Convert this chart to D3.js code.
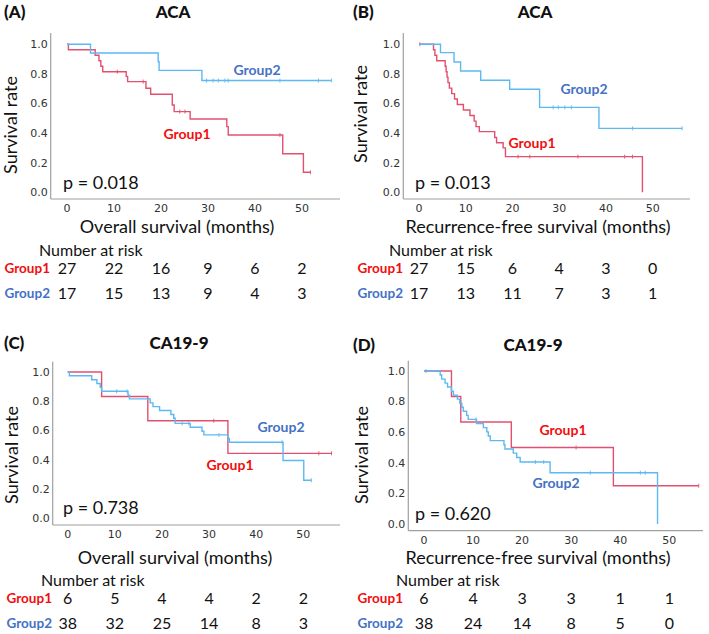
<!DOCTYPE html>
<html><head><meta charset="utf-8">
<script src="https://cdn.jsdelivr.net/npm/d3@7"></script>
<style>body{margin:0;background:#fff}svg{display:block}</style>
</head><body>
<svg id="chart" width="709" height="634"></svg>
<script>
// ---------------- DATA ----------------
const xTicks = [0, 10, 20, 30, 40, 50];
const yTicks = [0, 0.2, 0.4, 0.6, 0.8, 1.0];
const groupNames = ["Group1", "Group2"];
const panelLetters = ["(A)", "(B)", "(C)", "(D)"];
const panelTitles = ["ACA", "ACA", "CA19-9", "CA19-9"];
const xLabels = ["Overall survival (months)", "Recurrence-free survival (months)", "Overall survival (months)", "Recurrence-free survival (months)"];
const pValues = ["p = 0.018", "p = 0.013", "p = 0.738", "p = 0.620"];

// Panel A (ACA, OS)
const aG1Times = [0.3, 6.0, 6.8, 7.2, 7.6, 12.6, 12.9, 16.8, 17.8, 22.4, 22.8, 26.2, 34.0, 34.3, 45.9, 50.3];
const aG1Surv  = [0.963, 0.926, 0.889, 0.852, 0.815, 0.783, 0.748, 0.703, 0.662, 0.59, 0.545, 0.495, 0.444, 0.387, 0.26, 0.135];
const aG1Cens  = [10.7, 16.2, 24.0, 25.1, 45.3, 51.8];
const aG2Times = [5.0, 19.4, 19.6, 28.7];
const aG2Surv  = [0.941, 0.882, 0.824, 0.755];
const aG2Cens  = [29.7, 31.1, 32.2, 33.6, 34.3, 45.3, 53.5, 56.3];
const aRisk1 = [27, 22, 16, 9, 6, 2];
const aRisk2 = [17, 15, 13, 9, 4, 3];

// Panel B (ACA, RFS)
const bG1Times = [3.1, 3.4, 3.8, 5.6, 5.8, 6.0, 6.2, 6.5, 7.0, 7.6, 8.2, 9.5, 10.9, 11.8, 12.2, 12.9, 16.2, 16.6, 18.0, 18.5, 47.8];
const bG1Surv  = [0.963, 0.926, 0.889, 0.852, 0.815, 0.778, 0.741, 0.704, 0.667, 0.630, 0.593, 0.556, 0.519, 0.481, 0.444, 0.41, 0.37, 0.335, 0.30, 0.241, 0];
const bG1Cens  = [0.2, 21.2, 23.7, 34.0, 44.0, 45.7];
const bG2Times = [4.6, 7.5, 8.9, 13.2, 19.4, 25.8, 38.5];
const bG2Surv  = [0.944, 0.88, 0.82, 0.757, 0.696, 0.574, 0.432];
const bG2Cens  = [28.7, 29.8, 31.2, 32.6, 45.7, 56.3];
const bRisk1 = [27, 15, 6, 4, 3, 0];
const bRisk2 = [17, 13, 11, 7, 3, 1];

// Panel C (CA19-9, OS)
const cG1Times = [7.2, 17.0, 34.0];
const cG1Surv  = [0.833, 0.667, 0.444];
const cG1Cens  = [31.0, 53.3, 56.0];
const cG2Times = [0.35, 5.1, 6.2, 6.9, 7.2, 12.8, 13.1, 17.5, 18.1, 19.5, 21.9, 22.5, 22.8, 26.0, 28.5, 28.9, 34.0, 34.3, 45.7, 50.1];
const cG2Surv  = [0.974, 0.947, 0.921, 0.895, 0.868, 0.842, 0.816, 0.789, 0.763, 0.737, 0.71, 0.684, 0.649, 0.622, 0.595, 0.57, 0.545, 0.52, 0.395, 0.26];
const cG2Cens  = [10.4, 12.6, 24.3, 25.7, 32.1, 45.5, 51.7];
const cRisk1 = [6, 5, 4, 4, 2, 2];
const cRisk2 = [38, 32, 25, 14, 8, 3];

// Panel D (CA19-9, RFS)
const dG1Times = [5.6, 7.5, 17.8, 38.6];
const dG1Surv  = [0.833, 0.667, 0.5, 0.25];
const dG1Cens  = [31.0, 56.0];
const dG2Times = [3.3, 3.6, 4.3, 4.8, 5.6, 6.0, 6.8, 7.3, 7.7, 8.0, 8.7, 9.0, 10.7, 12.1, 12.8, 13.1, 13.5, 16.3, 16.5, 18.2, 18.9, 19.6, 25.7, 47.6];
const dG2Surv  = [0.974, 0.947, 0.921, 0.895, 0.868, 0.842, 0.816, 0.789, 0.763, 0.737, 0.71, 0.684, 0.657, 0.63, 0.602, 0.575, 0.545, 0.518, 0.49, 0.463, 0.435, 0.405, 0.335, 0];
const dG2Cens  = [0.4, 10.6, 22.7, 24.4, 33.9, 44.1, 45.1];
const dRisk1 = [6, 4, 3, 3, 1, 1];
const dRisk2 = [38, 24, 14, 8, 5, 0];

// ---------------- LAYOUT / STYLE ----------------
const curveColors = ["#e2506f", "#5cb9f3"];
const labelColors = ["#f20d0d", "#4472c4"];
const FONT = "Lato, 'Open Sans', sans-serif";
const TICKFONT = "'DejaVu Sans', sans-serif";

const panels = [
  {d:[[aG1Times,aG1Surv,aG1Cens],[aG2Times,aG2Surv,aG2Cens]], risk:[aRisk1,aRisk2], end:[51.8,56.3],
   x0:67, x50:302, y1:44.3, y0:192.3, axX:50.7, axTop:33, axY:199, axRight:340,
   title:[173,12], letter:[4,12], ylab:[11,125], xlab:[177,227], nar:[39,250], rows:[268,293], rowLabelRight:50,
   p:[63,189], g1:[187,134], g2:[257,70]},
  {d:[[bG1Times,bG1Surv,bG1Cens],[bG2Times,bG2Surv,bG2Cens]], risk:[bRisk1,bRisk2], end:[47.8,56.3],
   x0:419, x50:652.7, y1:44.3, y0:192.3, axX:403.3, axTop:33, axY:199, axRight:690,
   title:[535,12], letter:[353,12], ylab:[361,114], xlab:[538,227], nar:[389,250], rows:[268,293], rowLabelRight:403,
   p:[415,189], g1:[532,143], g2:[584,89]},
  {d:[[cG1Times,cG1Surv,cG1Cens],[cG2Times,cG2Surv,cG2Cens]], risk:[cRisk1,cRisk2], end:[56.0,51.7],
   x0:67.7, x50:303.3, y1:372, y0:518.3, axX:52.7, axTop:361.7, axY:525, axRight:340,
   title:[179,343], letter:[4,343], ylab:[12,455], xlab:[175,558], nar:[41,580], rows:[598,623], rowLabelRight:52,
   p:[63,514], g1:[230,465], g2:[281,427]},
  {d:[[dG1Times,dG1Surv,dG1Cens],[dG2Times,dG2Surv,dG2Cens]], risk:[dRisk1,dRisk2], end:[56.0,47.6],
   x0:424, x50:669.3, y1:371, y0:524, axX:408.3, axTop:360.7, axY:530.7, axRight:703,
   title:[533,345], letter:[353,345], ylab:[362,455], xlab:[538,558], nar:[396,580], rows:[598,623], rowLabelRight:403,
   p:[415,520], g1:[563,430], g2:[556,483]}
];

const svg = d3.select("#chart");

function survAt(times, surv, t) {
  let s = 1;
  for (let i = 0; i < times.length; i++) if (times[i] <= t) s = surv[i];
  return s;
}

panels.forEach((P, pi) => {
  const g = svg.append("g");
  const x = d3.scaleLinear().domain([0, 50]).range([P.x0, P.x50]);
  const y = d3.scaleLinear().domain([0, 1]).range([P.y0, P.y1]);

  // axes lines
  g.append("line").attr("x1", P.axX).attr("x2", P.axX).attr("y1", P.axTop).attr("y2", P.axY)
    .attr("stroke", "#a0a0a0").attr("stroke-width", 1.2);
  g.append("line").attr("x1", P.axX).attr("x2", P.axRight).attr("y1", P.axY).attr("y2", P.axY)
    .attr("stroke", "#a0a0a0").attr("stroke-width", 1.2);

  // y tick labels
  g.selectAll(".yt").data(yTicks).enter().append("text")
    .attr("x", P.axX - 3).attr("y", d => y(d)).attr("dy", "0.35em")
    .attr("text-anchor", "end").attr("font-family", TICKFONT).attr("font-size", 11).attr("fill", "#333")
    .text(d => d3.format(".1f")(d));
  // x tick labels
  g.selectAll(".xt").data(xTicks).enter().append("text")
    .attr("x", d => x(d)).attr("y", P.axY + 9).attr("dy", "0.35em")
    .attr("text-anchor", "middle").attr("font-family", TICKFONT).attr("font-size", 11).attr("fill", "#333")
    .text(d => d);

  // curves
  P.d.forEach((grp, gi) => {
    const [times, surv, cens] = grp;
    const pts = [[0, 1]];
    times.forEach((t, i) => pts.push([t, surv[i]]));
    pts.push([P.end[gi], surv[surv.length - 1]]);
    const line = d3.line().x(d => x(d[0])).y(d => y(d[1])).curve(d3.curveStepAfter);
    g.append("path").attr("d", line(pts)).attr("fill", "none")
      .attr("stroke", curveColors[gi]).attr("stroke-width", 1.4);
    g.selectAll(".c" + gi).data(cens).enter().append("line")
      .attr("x1", d => x(d)).attr("x2", d => x(d))
      .attr("y1", d => y(survAt(times, surv, d)) - 2).attr("y2", d => y(survAt(times, surv, d)) + 2)
      .attr("stroke", curveColors[gi]).attr("stroke-width", 0.9);
  });

  // in-plot group labels
  [P.g1, P.g2].forEach((pos, gi) => {
    g.append("text").attr("x", pos[0]).attr("y", pos[1]).attr("dy", "0.35em")
      .attr("text-anchor", "middle").attr("font-family", FONT).attr("font-weight", "bold")
      .attr("font-size", 14).attr("fill", labelColors[gi]).text(groupNames[gi]);
  });

  // p-value
  g.append("text").attr("x", P.p[0]).attr("y", P.p[1]).attr("font-family", FONT)
    .attr("font-size", 18).attr("fill", "#111").text(pValues[pi]);

  // titles
  g.append("text").attr("x", P.title[0]).attr("y", P.title[1]).attr("dy", "0.35em")
    .attr("text-anchor", "middle").attr("font-family", FONT).attr("font-weight", "900")
    .attr("font-size", 17).attr("fill", "#111").text(panelTitles[pi]);
  g.append("text").attr("x", P.letter[0]).attr("y", P.letter[1]).attr("dy", "0.35em")
    .attr("font-family", FONT).attr("font-weight", "900")
    .attr("font-size", 17).attr("fill", "#111").text(panelLetters[pi]);

  // axis labels
  g.append("text").attr("transform", `translate(${P.ylab[0]},${P.ylab[1]}) rotate(-90)`)
    .attr("dy", "0.35em").attr("text-anchor", "middle").attr("font-family", FONT)
    .attr("font-size", 18).attr("fill", "#111").text("Survival rate");
  g.append("text").attr("x", P.xlab[0]).attr("y", P.xlab[1]).attr("dy", "0.35em")
    .attr("text-anchor", "middle").attr("font-family", FONT)
    .attr("font-size", 18).attr("fill", "#111").text(xLabels[pi]);

  // number at risk
  g.append("text").attr("x", P.nar[0]).attr("y", P.nar[1]).attr("dy", "0.35em")
    .attr("font-family", FONT).attr("font-size", 16).attr("fill", "#111").text("Number at risk");
  P.risk.forEach((vals, gi) => {
    g.append("text").attr("x", P.rowLabelRight).attr("y", P.rows[gi]).attr("dy", "0.35em")
      .attr("text-anchor", "end").attr("font-family", FONT).attr("font-weight", "bold")
      .attr("font-size", 13.5).attr("fill", labelColors[gi]).text(groupNames[gi]);
    g.selectAll(".r" + gi).data(vals).enter().append("text")
      .attr("x", (d, i) => x(xTicks[i])).attr("y", P.rows[gi]).attr("dy", "0.35em")
      .attr("text-anchor", "middle").attr("font-family", FONT)
      .attr("font-size", 16).attr("fill", "#111").text(d => d);
  });
});
</script>
</body></html>
